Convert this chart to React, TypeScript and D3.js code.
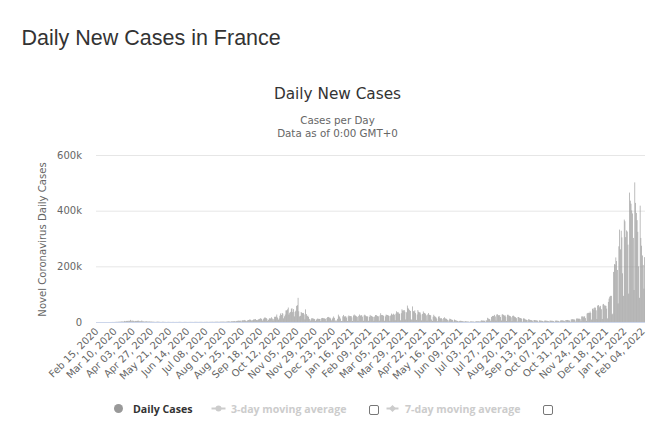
import React from "react";
import * as d3 from "d3";

// ---- data (daily new cases, France) ----
const feb2020 = [0, 0, 0, 0, 0, 0, 0, 0, 0, 0, 2, 4, 20, 19, 43];
const mar2020 = [30, 61, 21, 73, 138, 190, 336, 177, 286, 372, 497, 595, 785, 838, 924, 1210, 1097, 1404, 1861, 1617, 1847, 1559, 3838, 2446, 2931, 3922, 3809, 4611, 2599, 4376, 7578];
const apr2020 = [4861, 2116, 5233, 4267, 1873, 3912, 3777, 3881, 4286, 4342, 4785, 2937, 2645, 2673, 5497, 2633, 2641, 405, 2569, 2051, 2667, 1653, 1827, 1653, 2000, 1622, 1100, 1605, 1200, 1050];
const may2020 = [800, 600, 500, 700, 1000, 1300, 1100, 700, 500, 300, 450, 800, 900, 600, 500, 400, 300, 200, 500, 600, 400, 350, 300, 250, 300, 500, 400, 300, 200, 400, 300];
const jun2020 = [300, 400, 500, 700, 600, 400, 300, 200, 400, 500, 450, 500, 400, 300, 250, 300, 450, 500, 450, 400, 350, 200, 400, 500, 600, 550, 500, 300, 400, 550];
const jul2020 = [500, 600, 550, 500, 300, 400, 550, 600, 650, 700, 600, 400, 500, 600, 700, 800, 900, 700, 500, 700, 1000, 1100, 1000, 1100, 900, 700, 1000, 1300, 1400, 1300, 1300];
const aug2020 = [1300, 1200, 900, 1100, 1600, 2000, 2300, 2300, 1600, 1400, 2500, 2600, 2700, 3000, 3300, 2900, 1600, 3800, 4000, 4800, 4600, 4400, 4900, 1500, 5400, 6100, 6100, 7400, 5400, 5400, 3000];
const sep2020 = [4982, 7017, 7157, 8975, 8550, 7071, 4203, 6544, 8577, 9843, 9406, 10561, 7183, 6158, 7852, 9784, 10593, 13215, 13498, 10569, 5298, 10008, 13072, 16096, 15797, 14412, 11123, 4070, 8051, 12845];
const oct2020 = [13970, 12148, 16972, 12565, 5084, 10489, 18746, 18129, 20339, 26896, 16101, 8505, 12993, 22591, 30621, 25086, 32427, 29837, 13243, 20468, 26676, 41622, 42032, 45422, 52010, 26771, 33417, 36437, 47637, 49215, 35641];
const nov2020 = [46290, 20155, 36330, 40558, 58046, 60486, 86852, 38619, 20155, 22180, 35879, 33172, 32095, 32486, 27228, 9406, 45522, 28383, 21150, 22882, 17881, 11022, 4452, 9155, 13563, 13563, 12459, 11221, 10406, 4005];
const dec2020 = [8083, 11043, 12696, 11221, 11022, 11022, 3411, 13713, 14595, 13750, 13406, 12923, 11533, 3063, 14064, 17615, 18254, 15674, 15771, 12799, 5960, 11795, 15385, 19927, 14929, 3093, 7486, 2960, 11395, 26457, 20177];
const jan2021 = [19348, 12489, 3466, 4022, 20489, 25379, 19814, 20177, 20852, 15944, 3582, 19927, 23852, 21228, 21271, 21406, 16642, 3736, 23608, 26916, 22848, 23292, 20586, 18436, 4240, 22086, 26916, 22858, 23770, 24392, 19235];
const feb2021 = [4347, 23337, 26362, 23448, 20701, 20586, 19715, 4317, 18870, 25387, 21063, 22139, 19715, 18249, 4376, 19590, 25018, 25207, 22371, 21231, 20351, 4630, 23191, 31519, 25403, 25207, 23507, 22046];
const mar2021 = [4437, 20064, 26788, 25279, 25207, 23507, 21825, 4267, 23302, 30303, 27166, 25229, 29759, 26343, 6471, 29975, 38501, 34998, 35088, 30581, 29344, 6217, 31596, 45641, 41311, 41911, 42619, 37014, 9094, 34987, 59038];
const apr2021 = [50659, 46677, 42619, 40000, 9200, 8500, 56000, 39000, 38000, 42000, 32000, 7500, 27000, 43000, 37000, 35000, 34000, 27000, 6000, 29000, 38000, 33000, 32000, 30000, 24000, 5000, 27000, 32000, 26000, 25000];
const may2021 = [24000, 9000, 4000, 19000, 26000, 21000, 19000, 16000, 12000, 3000, 19000, 21000, 15000, 13000, 14000, 10000, 2500, 14000, 17000, 13000, 12000, 11000, 8000, 2000, 7000, 12000, 11000, 9000, 8000, 7000, 1800];
const jun2021 = [9000, 7000, 6000, 5000, 4000, 3000, 1000, 4000, 4500, 4000, 3500, 3000, 2500, 600, 3000, 3000, 2500, 2000, 1800, 1500, 500, 2000, 2300, 2100, 1900, 1700, 1400, 300, 2000, 2700];
const jul2021 = [2600, 2500, 2700, 2200, 600, 4200, 6000, 5000, 5000, 4800, 4300, 1200, 6900, 4000, 15000, 12500, 11000, 9000, 3300, 18000, 21500, 22000, 21900, 25600, 20000, 5300, 27000, 27700, 24500, 23300, 25000];
const aug2021 = [18000, 5400, 27000, 28000, 25000, 23000, 24000, 19000, 3500, 26000, 26000, 23000, 22000, 21000, 17000, 3000, 22000, 23000, 20000, 18000, 17000, 14000, 2000, 18000, 18000, 15000, 14000, 14000, 11000, 1500, 13000];
const sep2021 = [13000, 11000, 9000, 8000, 7000, 1300, 10000, 9000, 7500, 7000, 6500, 5000, 900, 7000, 7000, 6500, 6000, 5500, 4500, 700, 6000, 5500, 5000, 4700, 4000, 3500, 600, 5000, 5200, 4700];
const oct2021 = [4500, 4000, 3500, 600, 4800, 5000, 4600, 4400, 4000, 3200, 600, 4500, 5200, 5000, 4700, 4100, 3500, 700, 5500, 6000, 6100, 5700, 5100, 4200, 800, 6900, 7000, 7300, 6600, 6000, 5300];
const nov2021 = [1200, 8800, 10000, 10100, 9500, 9200, 8000, 1700, 12400, 12500, 12500, 11800, 12000, 10000, 2700, 20000, 20300, 17200, 21000, 19800, 14000, 4000, 30400, 32600, 33000, 32600, 37700, 32600, 8800, 47000];
const dec2021 = [49600, 44000, 52000, 51600, 42000, 11000, 59000, 61000, 56000, 52000, 58000, 46000, 11000, 63000, 65000, 60000, 59000, 58000, 48000, 13000, 72000, 84000, 91000, 94000, 94000, 27000, 30000, 180000, 208000, 206000, 232000];
const jan2022 = [219000, 187000, 67000, 272000, 332000, 261000, 328000, 304000, 175000, 94000, 368000, 362000, 305000, 329000, 325000, 278000, 102000, 465000, 436000, 425000, 401000, 390000, 302000, 115000, 501600, 428000, 392000, 366000, 324000, 200000, 87000];
const feb2022 = [418000, 302000, 274000, 239000, 205000, 120000, 233000];

const dailyCases = [
  ...feb2020, ...mar2020, ...apr2020, ...may2020, ...jun2020, ...jul2020,
  ...aug2020, ...sep2020, ...oct2020, ...nov2020, ...dec2020,
  ...jan2021, ...feb2021, ...mar2021, ...apr2021, ...may2021, ...jun2021,
  ...jul2021, ...aug2021, ...sep2021, ...oct2021, ...nov2021, ...dec2021,
  ...jan2022, ...feb2022,
];

const xTickLabels = [
  "Feb 15, 2020", "Mar 10, 2020", "Apr 03, 2020", "Apr 27, 2020", "May 21, 2020",
  "Jun 14, 2020", "Jul 08, 2020", "Aug 01, 2020", "Aug 25, 2020", "Sep 18, 2020",
  "Oct 12, 2020", "Nov 05, 2020", "Nov 29, 2020", "Dec 23, 2020", "Jan 16, 2021",
  "Feb 09, 2021", "Mar 05, 2021", "Mar 29, 2021", "Apr 22, 2021", "May 16, 2021",
  "Jun 09, 2021", "Jul 03, 2021", "Jul 27, 2021", "Aug 20, 2021", "Sep 13, 2021",
  "Oct 07, 2021", "Oct 31, 2021", "Nov 24, 2021", "Dec 18, 2021", "Jan 11, 2022",
  "Feb 04, 2022",
];
const tickEvery = 24;
const yTicks = [0, 200000, 400000, 600000];
const yTickLabels = ["0", "200k", "400k", "600k"];
const legendItems = ["Daily Cases", "3-day moving average", "7-day moving average"];

const FONT = "'DejaVu Sans', Verdana, sans-serif";
const LEGEND_FONT = "'Open Sans', 'Noto Sans', sans-serif";

export default function App() {
  const W = 668, H = 437;
  const left = 96, right = 645, top = 155, bottom = 322;
  const x = d3.scaleBand<number>().domain(d3.range(dailyCases.length)).range([left, right]).paddingInner(0.15);
  const y = d3.scaleLinear().domain([0, 600000]).range([bottom, top]);
  const bw = x.bandwidth();

  return (
    <svg width={W} height={H} style={{ display: "block", background: "#fff" }}>
      <style>{"body{margin:0}"}</style>
      <text x={21.5} y={45} fontFamily="'Liberation Sans', Arial, sans-serif" fontSize={21.5} fill="#333">
        Daily New Cases in France
      </text>
      <text x={337.5} y={99} textAnchor="middle" fontFamily={FONT} fontSize={15.3} fill="#333">
        Daily New Cases
      </text>
      <text x={337.5} y={124} textAnchor="middle" fontFamily={FONT} fontSize={10.3} fill="#666">
        Cases per Day
      </text>
      <text x={337.5} y={136.5} textAnchor="middle" fontFamily={FONT} fontSize={10.3} fill="#666">
        Data as of 0:00 GMT+0
      </text>

      {yTicks.map((t, i) => (
        <g key={t}>
          {i > 0 && <line x1={left} x2={right} y1={y(t) + 0.5} y2={y(t) + 0.5} stroke="#e6e6e6" />}
          <text x={82} y={y(t) + 3.5} textAnchor="end" fontFamily={FONT} fontSize={10} fill="#666">
            {yTickLabels[i]}
          </text>
        </g>
      ))}
      <text
        transform={`translate(45.5,${(top + bottom) / 2 + 1}) rotate(-90)`}
        textAnchor="middle"
        fontFamily={FONT}
        fontSize={10.1}
        fill="#666"
      >
        Novel Coronavirus Daily Cases
      </text>

      <g fill="#999999">
        {dailyCases.map((v, i) => (
          <rect key={i} x={x(i)} y={y(v)} width={bw} height={bottom - y(v)} />
        ))}
      </g>
      <line x1={left} x2={right} y1={bottom + 0.5} y2={bottom + 0.5} stroke="#ccd6eb" />

      {xTickLabels.map((lab, k) => {
        const cx = (x(k * tickEvery) as number) + bw / 2;
        return (
          <text
            key={lab}
            transform={`translate(${cx + 3},${bottom + 10}) rotate(-45)`}
            textAnchor="end"
            fontFamily={FONT}
            fontSize={10}
            fill="#666"
          >
            {lab}
          </text>
        );
      })}

      {/* legend */}
      <g fontFamily={LEGEND_FONT} fontWeight="bold" fontSize={10.6}>
        <circle cx={118.5} cy={408.5} r={4.5} fill="#999" />
        <text x={133} y={412.5} fill="#333">{legendItems[0]}</text>
        <line x1={211.5} x2={225.5} y1={408.5} y2={408.5} stroke="#ccc" strokeWidth={2} />
        <circle cx={218.5} cy={408.5} r={3} fill="#ccc" />
        <text x={231} y={412.5} fill="#ccc">{legendItems[1]}</text>
        <rect x={369.5} y={405.5} width={9} height={9} rx={1.5} fill="#fff" stroke="#777" />
        <line x1={386.5} x2={398.5} y1={408.5} y2={408.5} stroke="#ccc" strokeWidth={2} />
        <path d="M392.5,405 L396,408.5 L392.5,412 L389,408.5 Z" fill="#ccc" />
        <text x={405} y={412.5} fill="#ccc">{legendItems[2]}</text>
        <rect x={543.5} y={405.5} width={9} height={9} rx={1.5} fill="#fff" stroke="#777" />
      </g>
    </svg>
  );
}
